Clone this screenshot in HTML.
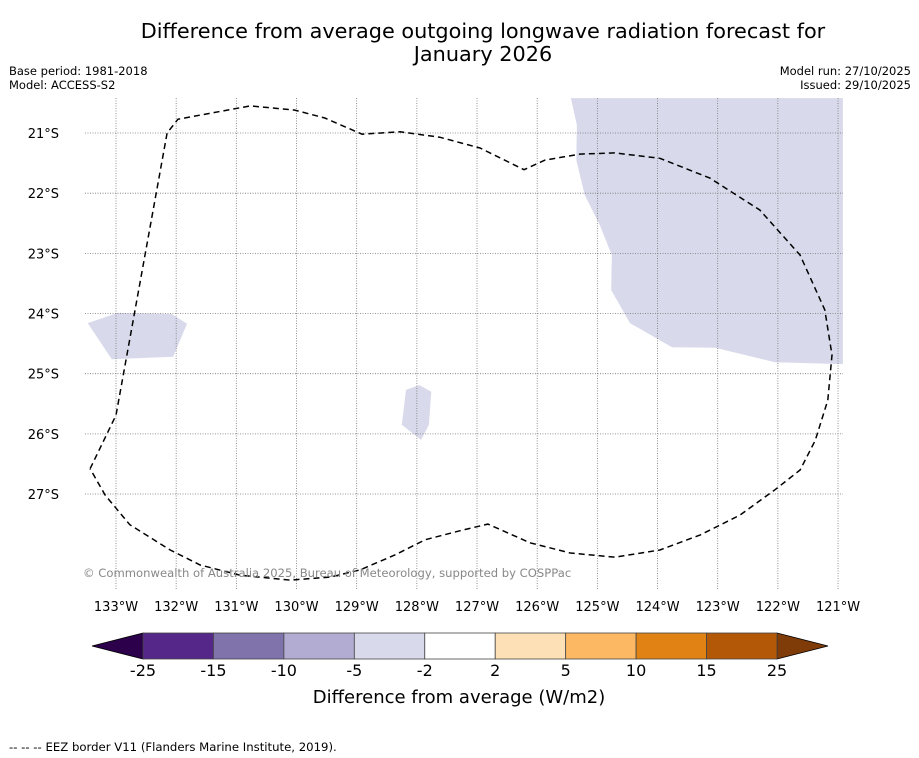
<!DOCTYPE html>
<html><head><meta charset="utf-8"><style>
body{margin:0;background:#fff;width:919px;height:758px;overflow:hidden;font-family:"DejaVu Sans","Liberation Sans",sans-serif}
svg{display:block}
</style></head><body>
<svg id="c" width="919" height="758" xmlns="http://www.w3.org/2000/svg">
<text x="483" y="38" font-size="20.8" text-anchor="middle">Difference from average outgoing longwave radiation forecast for</text>
<text x="483" y="61" font-size="20.8" text-anchor="middle">January 2026</text>
<text x="9" y="75" font-size="11.5">Base period: 1981-2018</text>
<text x="9" y="89" font-size="11.5">Model: ACCESS-S2</text>
<text x="911" y="75" font-size="11.5" text-anchor="end">Model run: 27/10/2025</text>
<text x="911" y="89" font-size="11.5" text-anchor="end">Issued: 29/10/2025</text>
<defs><clipPath id="mc"><rect x="85" y="98" width="758" height="492"/></clipPath></defs>
<g id="map" clip-path="url(#mc)"></g>
<g id="axes"></g>
<g id="cbar"></g>
<text x="459" y="703" font-size="18" text-anchor="middle">Difference from average (W/m2)</text>
<text x="9" y="751" font-size="11.7">-- -- -- EEZ border V11 (Flanders Marine Institute, 2019).</text>
</svg>
<script>
const lonTicks=[133,132,131,130,129,128,127,126,125,124,123,122,121];
const latTicks=[21,22,23,24,25,26,27];
const cbLevels=["-25","-15","-10","-5","-2","2","5","10","15","25"];
const cbColors=["#542788","#8073ac","#b2abd2","#d8daeb","#ffffff","#fee0b6","#fdb863","#e08214","#b35806"];
const cbUnder="#2d004b", cbOver="#7f3b08";
const regionNE=[[125.44,20.42],[125.34,20.87],[125.35,21.45],[125.21,22.03],[124.96,22.53],[124.76,23.03],[124.77,23.61],[124.46,24.16],[123.76,24.56],[123.04,24.57],[122.05,24.81],[120.92,24.84],[120.92,20.42]];
const regionW=[[133.47,24.16],[132.97,23.99],[132.07,24.01],[131.82,24.17],[132.05,24.72],[133.07,24.76]];
const regionC=[[128.18,25.27],[127.96,25.19],[127.76,25.30],[127.80,25.85],[127.93,26.10],[128.25,25.85]];
const eez=[[133.43,26.58],[133,25.69],[132.15,21],[131.97,20.77],[130.77,20.55],[130.03,20.62],[129.53,20.75],[128.91,21.02],[128.28,20.98],[127.62,21.07],[126.95,21.25],[126.22,21.61],[125.87,21.45],[125.29,21.35],[124.71,21.33],[123.96,21.42],[123.13,21.75],[122.30,22.28],[121.63,23.03],[121.22,23.94],[121.10,24.69],[121.17,25.44],[121.38,26.11],[121.63,26.60],[122.05,26.93],[122.63,27.35],[123.29,27.68],[123.96,27.93],[124.71,28.05],[125.45,27.98],[126.12,27.81],[126.82,27.50],[127.28,27.61],[127.86,27.76],[128.36,28.01],[128.94,28.26],[129.44,28.38],[130.11,28.43],[130.94,28.35],[131.60,28.18],[132.10,27.93],[132.77,27.51],[133.18,27.02],[133.43,26.58]];
const NS="http://www.w3.org/2000/svg";
const K=60.17;
function X(lon){return 116+(133-lon)*K;}
function Y(lat){return 133+(lat-21)*K;}
function mk(t,a,p){const e=document.createElementNS(NS,t);for(const k in a)e.setAttribute(k,a[k]);p.appendChild(e);return e;}
const map=document.getElementById('map'),axes=document.getElementById('axes'),cb=document.getElementById('cbar');
function pts(a){return a.map(p=>X(p[0]).toFixed(1)+','+Y(p[1]).toFixed(1)).join(' ');}
[[regionNE,'region-ne'],[regionW,'region-west'],[regionC,'region-central']].forEach(r=>{
 const e=mk('polygon',{points:pts(r[0]),fill:'#d8daeb'},map);
 
 
});
lonTicks.forEach(l=>{
 const x=X(l);
 const g=mk('line',{x1:x,x2:x,y1:98,y2:590,stroke:'#777','stroke-width':0.8,'stroke-dasharray':'1,1.5'},axes);
 
 
 const t=mk('text',{x:x,y:611,'font-size':13,'text-anchor':'middle'},axes);t.textContent=l+'°W';
 
 
});
latTicks.forEach(l=>{
 const y=Y(l);
 const g=mk('line',{x1:85,x2:843,y1:y,y2:y,stroke:'#777','stroke-width':0.8,'stroke-dasharray':'1,1.5'},axes);
 
 
 const t=mk('text',{x:59,y:y+5,'font-size':13,'text-anchor':'end'},axes);t.textContent=l+'°S';
 
 
});
const ez=mk('polyline',{points:pts(eez),fill:'none',stroke:'#000','stroke-width':1.5,'stroke-dasharray':'6,4'},axes);


const cp=mk('text',{x:83,y:577,'font-size':11.6,fill:'#888'},axes);cp.textContent='© Commonwealth of Australia 2025, Bureau of Meteorology, supported by COSPPac';


const cx0=143,cx1=777,cy=633,ch=26,w=(cx1-cx0)/cbColors.length;
const u=mk('polygon',{points:`${cx0},${cy} ${cx0},${cy+ch} 92,${cy+ch/2}`,fill:cbUnder,stroke:'#000','stroke-width':0.8},cb);


const o=mk('polygon',{points:`${cx1},${cy} ${cx1},${cy+ch} 828,${cy+ch/2}`,fill:cbOver,stroke:'#000','stroke-width':0.8},cb);


cbColors.forEach((c,i)=>{
 const r=mk('rect',{x:cx0+i*w,y:cy,width:w,height:ch,fill:c,stroke:'#444','stroke-width':0.8},cb);
 
 
});
cbLevels.forEach((l,i)=>{
 const t=mk('text',{x:cx0+i*w,y:676,'font-size':16,'text-anchor':'middle'},cb);t.textContent=l;
 
 
});
</script>
</body></html>
